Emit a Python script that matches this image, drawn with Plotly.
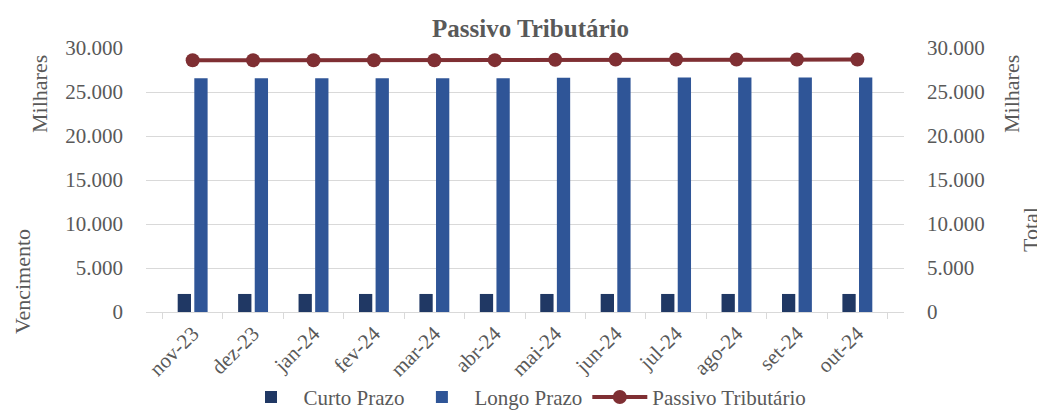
"""Passivo Tributário: curto e longo prazo (barras) e total (linha)"""

import plotly.graph_objects as go

meses = ["nov-23", "dez-23", "jan-24", "fev-24", "mar-24", "abr-24",
         "mai-24", "jun-24", "jul-24", "ago-24", "set-24", "out-24"]
curto_prazo = [2050, 2050, 2050, 2050, 2050, 2050, 2050, 2050, 2050, 2050, 2050, 2050]
longo_prazo = [26550, 26550, 26550, 26550, 26560, 26570, 26620, 26630, 26640, 26640, 26640, 26640]
passivo_total = [28600, 28600, 28600, 28600, 28610, 28620, 28670, 28680, 28690, 28690, 28690, 28690]

CINZA = "#595959"
GRADE = "#d9d9d9"
FONTE = "Liberation Serif"

fig = go.Figure()
fig.add_trace(go.Bar(x=meses, y=curto_prazo, name="Curto Prazo",
                     marker=dict(color="#203864", line=dict(width=0))))
fig.add_trace(go.Bar(x=meses, y=longo_prazo, name="Longo Prazo",
                     marker=dict(color="#2f5597", line=dict(width=0))))
fig.add_trace(go.Scatter(x=meses, y=passivo_total, name="Passivo Tributário",
                         yaxis="y2", mode="lines+markers",
                         line=dict(color="#7f2f33", width=4),
                         marker=dict(color="#7f2f33", size=14)))

eixo_y = dict(range=[0, 30000], dtick=5000, tickformat=",.0f",
              showgrid=True, gridcolor=GRADE, gridwidth=1, zeroline=False,
              showline=False, tickfont=dict(size=21, color=CINZA), ticks="",
              ticklabelstandoff=22, automargin=False)

# a página tem 8 px de margem no corpo: a área do gráfico é deslocada para compensar
fig.update_layout(
    width=1045, height=412,
    separators=",.",
    font=dict(family=FONTE, color=CINZA),
    paper_bgcolor="white", plot_bgcolor="white",
    title=dict(text="<b>Passivo Tributário</b>", x=0.5, xanchor="center",
               yref="container", y=0.952, yanchor="middle",
               font=dict(size=25, color=CINZA)),
    margin=dict(l=138, r=149, t=40, b=108, autoexpand=False),
    barmode="group", bargap=0.45, bargroupgap=0.2,
    xaxis=dict(tickangle=-45, tickfont=dict(size=21, color=CINZA),
               showline=True, linecolor=GRADE, linewidth=1,
               ticks="outside", tickson="boundaries", ticklen=6, tickcolor=GRADE,
               showgrid=False, automargin=False),
    yaxis=eixo_y,
    yaxis2=dict(eixo_y, overlaying="y", side="right", showgrid=False),
    showlegend=True,
    legend=dict(orientation="h", x=0.5, xanchor="center", yref="container",
                y=0.055, yanchor="middle", font=dict(size=21, color=CINZA),
                itemwidth=55, tracegroupgap=0),
)

# títulos dos eixos à maneira do Excel (unidade de exibição + título)
for texto, x, y in [("Milhares", 40, 94), ("Vencimento", 22, 282),
                    ("Milhares", 1012, 94), ("Total", 1030, 230)]:
    fig.add_annotation(text=texto, xref="paper", yref="paper",
                       x=(x - 146) / 758, y=(312 - y) / 264,
                       xanchor="center", yanchor="middle",
                       textangle=-90, showarrow=False,
                       font=dict(size=22, color=CINZA))

fig.write_html("out.html")
